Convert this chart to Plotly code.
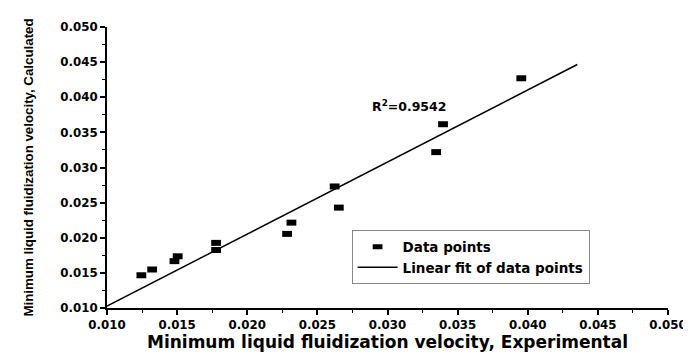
import plotly.graph_objects as go

# Data points
exp_vals = [0.01245, 0.01322, 0.01481, 0.01504, 0.01778, 0.01778, 0.02284,
            0.02315, 0.02623, 0.02653, 0.03347, 0.03396, 0.03954]
calc_vals = [0.01466, 0.01548, 0.01667, 0.01736, 0.01927, 0.01826, 0.02055,
             0.02215, 0.02730, 0.02429, 0.03219, 0.03616, 0.04270]

# Linear fit line endpoints (as drawn)
fit_x = [0.0100, 0.04353]
fit_y = [0.01027, 0.04466]

r2_label = "R<sup>2</sup>=0.9542"
tick_vals = [0.010, 0.015, 0.020, 0.025, 0.030, 0.035, 0.040, 0.045, 0.050]
tick_text = ["0.010", "0.015", "0.020", "0.025", "0.030", "0.035", "0.040", "0.045", "0.050"]

bold_font = "DejaVu Sans"

fig = go.Figure()
fig.add_trace(go.Scatter(
    x=exp_vals, y=calc_vals, mode="markers", name="<b>Data points</b>",
    marker=dict(symbol="line-ew", size=7, color="black",
                line=dict(color="black", width=6)),
))
fig.add_trace(go.Scatter(
    x=fit_x, y=fit_y, mode="lines", name="<b>Linear fit of data points</b>",
    line=dict(color="black", width=1.5),
))

fig.add_annotation(x=0.03156, y=0.0388, text="<b>" + r2_label + "</b>",
                   showarrow=False, font=dict(family=bold_font, size=12.5, color="black"))

axis_common = dict(
    showgrid=False, zeroline=False, showline=True, linecolor="black", linewidth=2,
    ticks="outside", ticklen=5, tickwidth=1.5, tickcolor="black",
    range=[0.010, 0.050], tickvals=tick_vals, ticktext=["<b>%s</b>" % t for t in tick_text],
    tickfont=dict(family=bold_font, size=11.8, color="black"),
    minor=dict(ticks="outside", ticklen=3, tickwidth=1.2, tickcolor="black", dtick=0.0025,
               tick0=0.010, showgrid=False),
)

fig.update_xaxes(**axis_common,
                 title=dict(text="<b>Minimum liquid fluidization velocity, Experimental</b>",
                            font=dict(family=bold_font, size=17, color="black"), standoff=4))
fig.update_yaxes(**axis_common,
                 title=dict(text="<b>Minimum liquid fluidization velocity, Calculated</b>",
                            font=dict(family="Liberation Sans Narrow, Liberation Sans",
                                      size=13.3, color="black"), standoff=24))

fig.update_layout(
    width=691, height=352,
    margin=dict(l=99, r=21, t=15, b=45),
    paper_bgcolor="white", plot_bgcolor="white",
    showlegend=True,
    legend=dict(x=0.436, y=0.276, xanchor="left", yanchor="top",
                bordercolor="#888888", borderwidth=1, bgcolor="white",
                font=dict(family=bold_font, size=13.5, color="black"),
                itemwidth=40, tracegroupgap=0),
)

fig.write_html("out.html")
